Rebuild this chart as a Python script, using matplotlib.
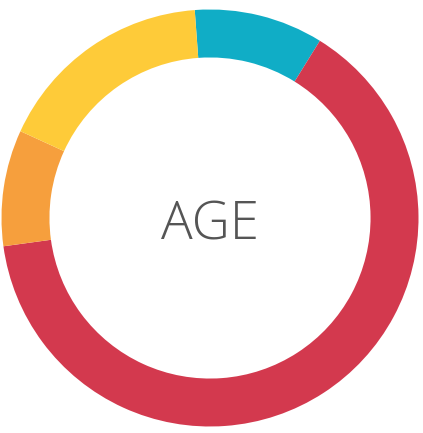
import matplotlib
matplotlib.use("Agg")
import matplotlib.pyplot as plt

labels = ["Teal", "Red", "Orange", "Yellow"]
values = [10, 64, 9, 17]
colors = ["#10adc6", "#d3394e", "#f69f3d", "#fecb39"]
center_text = "AGE"

fig = plt.figure(figsize=(4.23, 4.33), dpi=100)
# axes sized so the ring spans ~417 px, centred at (210, 218)
ax = fig.add_axes([1.5 / 423, (433 - 218 - 208.5) / 433, 417 / 423, 417 / 433])
ax.pie(values, colors=colors, startangle=94.2, counterclock=False, radius=1,
       wedgeprops=dict(width=0.23, linewidth=0))
ax.set_xlim(-1, 1)
ax.set_ylim(-1, 1)
ax.set_aspect("equal")
ax.axis("off")

ax.text(0, -0.105, center_text, ha="center", va="baseline", fontsize=38,
        color="#555555", family=["Open Sans", "DejaVu Sans"], fontweight="light")

fig.savefig("out.png", dpi=100)
